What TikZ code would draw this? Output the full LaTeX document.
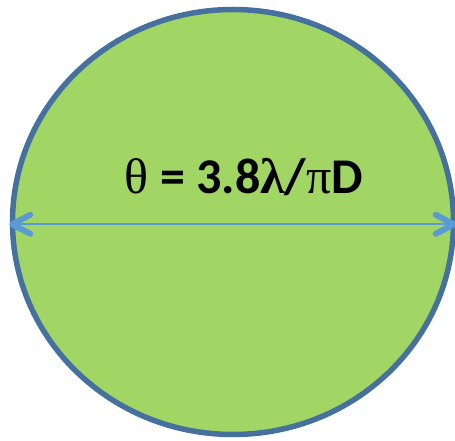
\documentclass[tikz,border=0pt]{standalone}
\usepackage{fontspec}
\setmainfont{Carlito}
\newfontfamily\greekserif{Liberation Serif}
\usetikzlibrary{shapes.geometric}
\definecolor{diskfill}{HTML}{A2D664}
\definecolor{diskline}{HTML}{46719E}
\definecolor{arrowblue}{HTML}{5B9BD5}
\begin{document}
\begin{tikzpicture}[x=1pt,y=1pt,
  disk/.style={ellipse, draw=diskline, fill=diskfill, line width=5.5pt,
     minimum width=441pt, minimum height=425pt, inner sep=0pt},
  dimline/.style={draw=arrowblue, line width=2.4pt},
  chevron/.style={draw=arrowblue, line width=6pt, line cap=round, line join=round},
  formula/.style={anchor=base, inner sep=0pt, font=\fontsize{50}{58}\selectfont\bfseries}
]
\useasboundingbox (0,0) rectangle (455,441);
\node[disk] (disk) at (233,219) {};
\coordinate (lefttip) at ([xshift=2.5pt,yshift=-2.3pt]disk.west);
\coordinate (righttip) at ([xshift=-2.5pt,yshift=-2.3pt]disk.east);
\draw[dimline] (lefttip) -- (righttip);
\draw[chevron] ([shift={(18,9.5)}]lefttip) -- (lefttip) -- ([shift={(18,-9.5)}]lefttip);
\draw[chevron] ([shift={(-18,9.5)}]righttip) -- (righttip) -- ([shift={(-18,-9.5)}]righttip);
\node[formula] (label) at (244,247.7) {{\greekserif\mdseries θ} = 3.8{\greekserif λ}/{\greekserif\mdseries π}D};
\end{tikzpicture}
\end{document}
